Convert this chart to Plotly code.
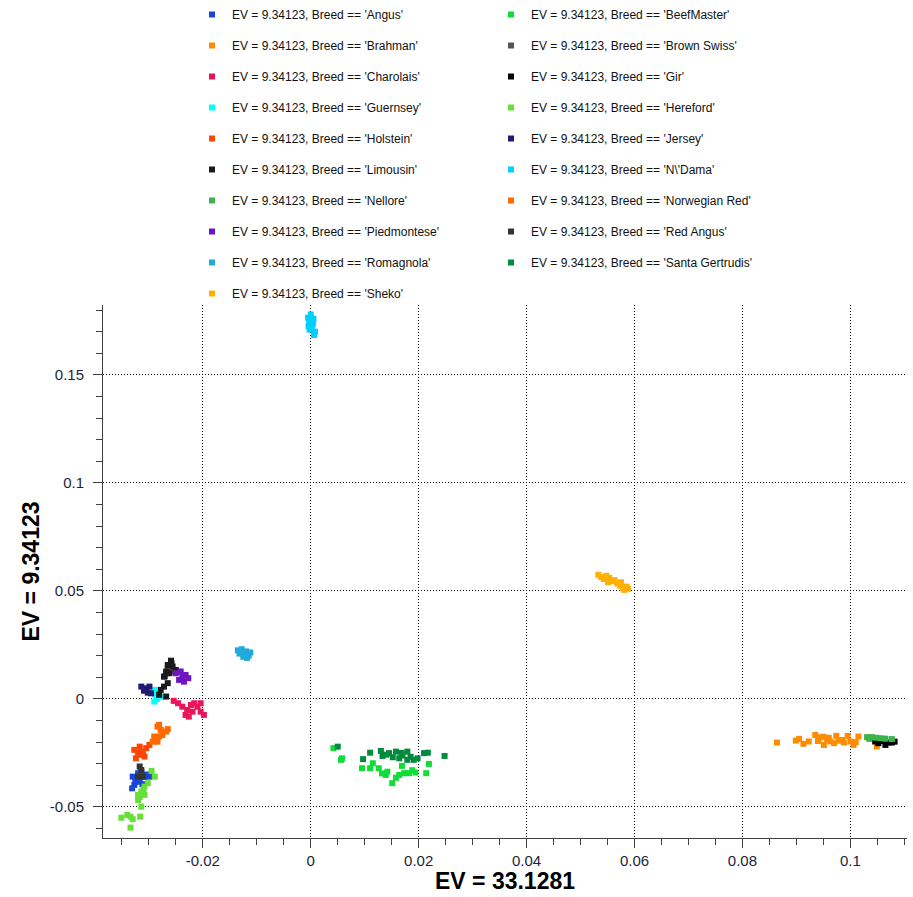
import plotly.graph_objects as go

# ---------------- data ----------------
breeds = ["Angus", "BeefMaster", "Brahman", "Brown Swiss", "Charolais", "Gir",
          "Guernsey", "Hereford", "Holstein", "Jersey", "Limousin", "N\\'Dama",
          "Nellore", "Norwegian Red", "Piedmontese", "Red Angus", "Romagnola",
          "Santa Gertrudis", "Sheko"]

angus_x = [-0.0330, -0.0320, -0.0327, -0.0308, -0.0299, -0.0314, -0.0317, -0.0331, -0.0322, -0.0305, -0.0325, -0.0312]
angus_y = [-0.0360, -0.0344, -0.0398, -0.0360, -0.0360, -0.0337, -0.0383, -0.0414, -0.0372, -0.0350, -0.0385, -0.0395]

beefmaster_x = [0.0042, 0.0056, 0.0095, 0.0115, 0.0110, 0.0126, 0.0142, 0.0139, 0.0151, 0.0164, 0.0173, 0.0182, 0.0194, 0.0169, 0.0219, 0.0214, 0.0058, 0.0132, 0.0158, 0.0188]
beefmaster_y = [-0.0228, -0.0282, -0.0321, -0.0298, -0.0321, -0.0321, -0.0337, -0.0352, -0.0390, -0.0352, -0.0344, -0.0344, -0.0341, -0.0310, -0.0301, -0.0344, -0.0275, -0.0345, -0.0365, -0.0330]

brahman_x = [0.0864, 0.0899, 0.0913, 0.0923, 0.0935, 0.0944, 0.0951, 0.0957, 0.0963, 0.0974, 0.0978, 0.0988, 0.0995, 0.1000, 0.1006, 0.1015, 0.1049, 0.0905, 0.0940, 0.0960, 0.0985, 0.1010, 0.0970, 0.0950]
brahman_y = [-0.0202, -0.0193, -0.0208, -0.0197, -0.0167, -0.0178, -0.0213, -0.0186, -0.0197, -0.0171, -0.0193, -0.0202, -0.0171, -0.0197, -0.0213, -0.0174, -0.0220, -0.0185, -0.0195, -0.0180, -0.0190, -0.0200, -0.0205, -0.0175]

brownswiss_x = [-0.0265, -0.0268, -0.0259, -0.0262, -0.0270]
brownswiss_y = [0.0142, 0.0119, 0.0127, 0.0150, 0.0105]

charolais_x = [-0.0254, -0.0246, -0.0238, -0.0229, -0.0232, -0.0222, -0.0216, -0.0210, -0.0204, -0.0204, -0.0198, -0.0219, -0.0226]
charolais_y = [-0.0009, -0.0020, -0.0036, -0.0051, -0.0074, -0.0028, -0.0020, -0.0036, -0.0020, -0.0059, -0.0074, -0.0059, -0.0082]

gir_x = [0.1046, 0.1052, 0.1065, 0.1071, 0.1077, 0.1060, 0.1082]
gir_y = [-0.0197, -0.0205, -0.0213, -0.0202, -0.0202, -0.0195, -0.0198]

guernsey_x = [-0.0290, -0.0288, -0.0290, -0.0281, -0.0275, -0.0285]
guernsey_y = [0.0042, 0.0019, -0.0012, 0.0026, 0.0011, 0.0000]

hereford_x = [-0.0295, -0.0289, -0.0302, -0.0308, -0.0314, -0.0320, -0.0308, -0.0320, -0.0314, -0.0351, -0.0340, -0.0334, -0.0330, -0.0316, -0.0334, -0.0317, -0.0310]
hereford_y = [-0.0333, -0.0360, -0.0390, -0.0406, -0.0429, -0.0444, -0.0444, -0.0468, -0.0499, -0.0550, -0.0537, -0.0545, -0.0557, -0.0545, -0.0596, -0.0455, -0.0420]

holstein_x = [-0.0327, -0.0324, -0.0317, -0.0311, -0.0305, -0.0314, -0.0299, -0.0308, -0.0320]
holstein_y = [-0.0236, -0.0275, -0.0221, -0.0244, -0.0228, -0.0259, -0.0213, -0.0267, -0.0250]

jersey_x = [-0.0314, -0.0305, -0.0299, -0.0302, -0.0296, -0.0309]
jersey_y = [0.0057, 0.0049, 0.0057, 0.0029, 0.0026, 0.0038]

limousin_x = [-0.0259, -0.0265, -0.0256, -0.0268, -0.0262, -0.0250, -0.0272, -0.0265, -0.0272, -0.0278, -0.0281, -0.0268, -0.0258]
limousin_y = [0.0177, 0.0157, 0.0150, 0.0127, 0.0119, 0.0134, 0.0103, 0.0073, 0.0057, 0.0042, 0.0019, 0.0011, 0.0165]

ndama_x = [0.0000, -0.0005, 0.0005, -0.0003, 0.0004, -0.0004, 0.0003, 0.0008, 0.0006, -0.0002]
ndama_y = [0.1780, 0.1765, 0.1760, 0.1745, 0.1740, 0.1725, 0.1720, 0.1700, 0.1685, 0.1710]

nellore_x = [0.1031, 0.1040, 0.1056, 0.1077, 0.1035, 0.1048, 0.1065]
nellore_y = [-0.0177, -0.0177, -0.0182, -0.0186, -0.0185, -0.0180, -0.0184]

norwegianred_x = [-0.0284, -0.0278, -0.0268, -0.0290, -0.0281, -0.0293, -0.0284, -0.0275, -0.0281, -0.0265]
norwegianred_y = [-0.0128, -0.0144, -0.0151, -0.0174, -0.0174, -0.0198, -0.0198, -0.0167, -0.0120, -0.0140]

piedmontese_x = [-0.0250, -0.0241, -0.0232, -0.0244, -0.0235, -0.0227, -0.0238]
piedmontese_y = [0.0119, 0.0127, 0.0111, 0.0088, 0.0080, 0.0096, 0.0103]

redangus_x = [-0.0317, -0.0314, -0.0320, -0.0311]
redangus_y = [-0.0313, -0.0329, -0.0360, -0.0360]

romagnola_x = [-0.0135, -0.0128, -0.0120, -0.0132, -0.0122, -0.0115, -0.0112, -0.0125, -0.0118, -0.0130]
romagnola_y = [0.0225, 0.0230, 0.0220, 0.0210, 0.0205, 0.0200, 0.0215, 0.0195, 0.0190, 0.0218]

santagertrudis_x = [0.0050, 0.0110, 0.0097, 0.0130, 0.0133, 0.0145, 0.0158, 0.0164, 0.0179, 0.0179, 0.0191, 0.0210, 0.0217, 0.0248, 0.0140, 0.0152, 0.0170, 0.0185, 0.0168, 0.0198]
santagertrudis_y = [-0.0221, -0.0249, -0.0279, -0.0241, -0.0264, -0.0251, -0.0244, -0.0275, -0.0244, -0.0282, -0.0282, -0.0251, -0.0249, -0.0264, -0.0258, -0.0270, -0.0262, -0.0268, -0.0250, -0.0275]

sheko_x = [0.0533, 0.0538, 0.0548, 0.0543, 0.0553, 0.0558, 0.0563, 0.0551, 0.0568, 0.0573, 0.0578, 0.0585, 0.0581, 0.0588, 0.0575]
sheko_y = [0.0575, 0.0565, 0.0570, 0.0555, 0.0560, 0.0545, 0.0550, 0.0540, 0.0535, 0.0525, 0.0515, 0.0520, 0.0505, 0.0510, 0.0540]

x_tick_vals = [-0.02, 0, 0.02, 0.04, 0.06, 0.08, 0.1]
x_tick_text = ["-0.02", "0", "0.02", "0.04", "0.06", "0.08", "0.1"]
y_tick_vals = [-0.05, 0, 0.05, 0.1, 0.15]
y_tick_text = ["-0.05", "0", "0.05", "0.1", "0.15"]

x_title = "EV = 33.1281"
y_title = "EV = 9.34123"
legend_prefix = "EV = 9.34123, Breed == "

# ---------------- styling ----------------
colors = {
    "Angus": "#1847D8", "BeefMaster": "#10DD35", "Brahman": "#FF8C00",
    "Brown Swiss": "#555555", "Charolais": "#EC1458", "Gir": "#000000",
    "Guernsey": "#00FFFF", "Hereford": "#68DF38", "Holstein": "#FF4500",
    "Jersey": "#1E1B70", "Limousin": "#1A1A1A", "N\\'Dama": "#00CFFF",
    "Nellore": "#3CB44B", "Norwegian Red": "#FF6A00", "Piedmontese": "#6E14C2",
    "Red Angus": "#333333", "Romagnola": "#20AADA", "Santa Gertrudis": "#008B3D",
    "Sheko": "#FFB000",
}

series = [
    (angus_x, angus_y), (beefmaster_x, beefmaster_y), (brahman_x, brahman_y),
    (brownswiss_x, brownswiss_y), (charolais_x, charolais_y), (gir_x, gir_y),
    (guernsey_x, guernsey_y), (hereford_x, hereford_y), (holstein_x, holstein_y),
    (jersey_x, jersey_y), (limousin_x, limousin_y), (ndama_x, ndama_y),
    (nellore_x, nellore_y), (norwegianred_x, norwegianred_y),
    (piedmontese_x, piedmontese_y), (redangus_x, redangus_y),
    (romagnola_x, romagnola_y), (santagertrudis_x, santagertrudis_y),
    (sheko_x, sheko_y),
]

W, H = 913, 897
L, R, T, B = 103, 6, 305, 59
fig = go.Figure()
for i, (b, (xs, ys)) in enumerate(zip(breeds, series)):
    fig.add_trace(go.Scatter(
        x=xs, y=ys, mode="markers",
        name=f"{legend_prefix}'{b}'",
        legend="legend" if i % 2 == 0 else "legend2",
        legendgroup=b,
        marker=dict(symbol="square", size=6, color=colors[b], line=dict(width=0)),
    ))

axis_col = "#404040"
tick_font = dict(family="Liberation Sans, Arial, sans-serif", size=15, color="#1e1e3c")
title_font = dict(family="Liberation Sans, Arial, sans-serif", size=23, color="#000000")
legend_common = dict(
    orientation="v", xref="container", yref="container", yanchor="top",
    xanchor="left", bgcolor="rgba(0,0,0,0)", tracegroupgap=12,
    font=dict(family="Liberation Sans, Arial, sans-serif", size=12, color="#111111"),
    itemsizing="trace",
)

fig.update_layout(
    width=W, height=H,
    margin=dict(l=L, r=R, t=T, b=B, autoexpand=False),
    paper_bgcolor="white", plot_bgcolor="white",
    showlegend=True,
    legend=dict(x=192 / W, y=1 + 7 / H, **legend_common),
    legend2=dict(x=491 / W, y=1 + 7 / H, **legend_common),
    xaxis=dict(
        range=[-0.0385, 0.1105], tickmode="array", tickvals=x_tick_vals, ticktext=x_tick_text,
        showline=True, linecolor=axis_col, linewidth=1, mirror=False,
        ticks="outside", ticklen=9, tickcolor=axis_col, tickwidth=1,
        showgrid=True, gridcolor="#000000", gridwidth=1, griddash="1px,2px",
        zeroline=False, tickfont=tick_font, automargin=False,
        minor=dict(tickmode="linear", tick0=0, dtick=0.005, ticks="outside", ticklen=6,
                   tickcolor=axis_col, showgrid=False),
    ),
    yaxis=dict(
        range=[-0.0644, 0.1824], tickmode="array", tickvals=y_tick_vals, ticktext=y_tick_text,
        showline=True, linecolor=axis_col, linewidth=1, mirror=False,
        ticks="outside", ticklen=9, tickcolor=axis_col, tickwidth=1,
        showgrid=True, gridcolor="#000000", gridwidth=1, griddash="1px,2px",
        zeroline=False, tickfont=tick_font, automargin=False, ticklabelstandoff=6,
        minor=dict(tickmode="linear", tick0=0, dtick=0.01, ticks="outside", ticklen=6,
                   tickcolor=axis_col, showgrid=False),
    ),
    annotations=[
        dict(text=f"<b>{x_title}</b>", font=title_font, showarrow=False,
             xref="paper", yref="paper", x=0.5, y=-(881 - (H - B)) / (H - T - B),
             xanchor="center", yanchor="middle", borderpad=0),
        dict(text=f"<b>{y_title}</b>", font=title_font, showarrow=False, textangle=-90,
             xref="paper", yref="paper", x=-(L - 30) / (W - L - R), y=0.5,
             xanchor="center", yanchor="middle", borderpad=0),
    ],
)

fig.write_html("out.html", config={"displayModeBar": False},
               post_script="document.body.style.margin='0';")
